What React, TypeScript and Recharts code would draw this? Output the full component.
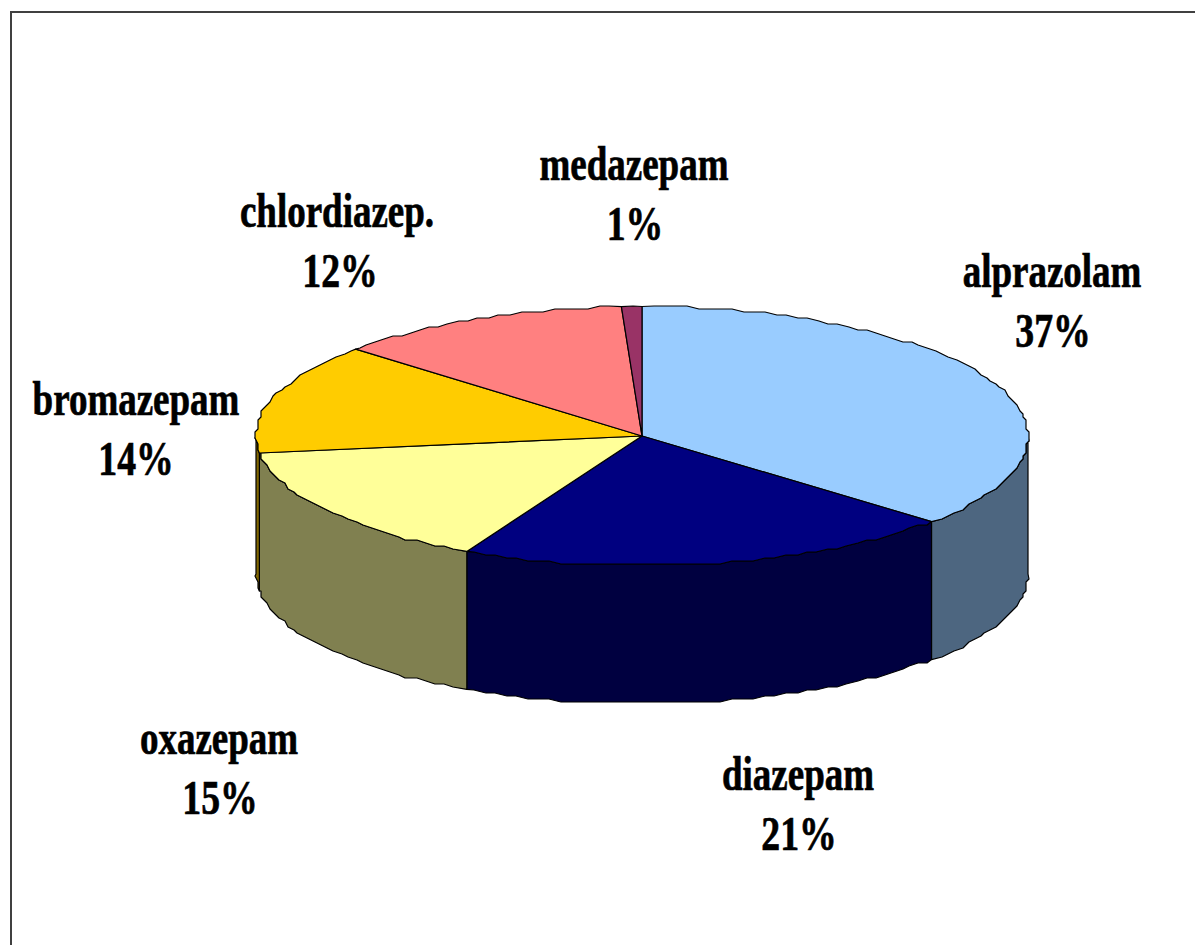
import { PieChart, Pie } from 'recharts'

const drugs = ['alprazolam', 'diazepam', 'oxazepam', 'bromazepam', 'chlordiazep.', 'medazepam']
const shares = [36.5, 21, 15.4, 13.8, 12.45, 0.85]
const topColors = ['#99ccff', '#000080', '#ffff99', '#ffcc00', '#ff8080', '#993366']
const wallColors = ['#4d6680', '#000040', '#808050', '#806600', '#804040', '#4d1a33']

// name centre x, name baseline, percent centre x
const labelSpots = [
  [1052, 287, 1053],
  [798, 790, 799],
  [219, 754, 220],
  [136, 415, 136],
  [337, 227, 340],
  [634, 180, 635],
]

const rows = drugs.map((name, i) => ({ name, value: shares[i], top: topColors[i], wall: wallColors[i] }))

const RX = 386
const RY = 129.5
const DEPTH = 138
const CX = 642
const CY = 436

// The source image is a low-res upscale, so the rim wobbles: sample coarsely and snap to a grid
const STEP = 1.7
const SNAP = 3

function rim(t: number, dy = 0, snap = true) {
  const rad = (t * Math.PI) / 180
  const x = CX + RX * Math.sin(rad)
  const y = CY - RY * Math.cos(rad) + dy
  if (!snap) return [x, y]
  return [Math.round(x / SNAP) * SNAP, Math.round(y / SNAP) * SNAP]
}

function arc(from: number, to: number, dy = 0) {
  const pts = [rim(from, dy, false)]
  for (let k = Math.ceil(from / STEP + 0.3); k * STEP < to - STEP * 0.3; k++) pts.push(rim(k * STEP, dy))
  pts.push(rim(to, dy, false))
  return pts
}

const toPath = (pts: number[][]) => 'M' + pts.map((p) => `${p[0].toFixed(1)},${p[1].toFixed(1)}`).join('L') + 'Z'

function TopSlice(props: any) {
  const d = toPath([[CX, CY], ...arc(90 - props.startAngle, 90 - props.endAngle)])
  return <path d={d} fill={props.payload?.top ?? props.top} stroke="#000" strokeWidth={1.2} strokeLinejoin="round" />
}

function WallSlice(props: any) {
  const from = Math.max(90 - props.startAngle, 90)
  const to = Math.min(90 - props.endAngle, 270)
  if (from >= to) return <g />
  const d = toPath([...arc(from, to), ...arc(from, to, DEPTH).reverse()])
  return <path d={d} fill={props.payload?.wall ?? props.wall} stroke="#000" strokeWidth={1.2} strokeLinejoin="round" />
}

function SliceLabel(props: any) {
  const [x, y, pctX] = labelSpots[props.index]
  const common = {
    textAnchor: 'middle' as const,
    fontFamily: 'Liberation Serif',
    fontWeight: 700,
    fontSize: 49,
    fill: '#000',
    stroke: '#000',
    strokeWidth: 0.7,
  }
  return (
    <g>
      <text {...common} transform={`translate(${x},${y}) scale(0.755,1)`}>{drugs[props.index]}</text>
      <text {...common} transform={`translate(${pctX},${y + 60}) scale(0.77,1)`}>{Math.round(shares[props.index])}%</text>
    </g>
  )
}

export default function App() {
  return (
    <div style={{ position: 'absolute', left: 0, top: 0, width: 1195, height: 945, overflow: 'hidden', background: '#fff' }}>
      <div style={{ position: 'absolute', left: 10, top: 11, width: 1300, height: 1100, border: '2px solid #404040' }} />
      <div style={{ position: 'absolute', left: 0, top: 0 }}>
        <PieChart width={1195} height={945} margin={{ top: 0, right: 0, bottom: 0, left: 0 }}>
          <Pie
            data={rows}
            dataKey="value"
            nameKey="name"
            cx={CX}
            cy={CY}
            outerRadius={RX}
            startAngle={90}
            endAngle={-270}
            paddingAngle={0}
            shape={WallSlice}
            isAnimationActive={false}
          />
          <Pie
            data={rows}
            dataKey="value"
            nameKey="name"
            cx={CX}
            cy={CY}
            outerRadius={RX}
            startAngle={90}
            endAngle={-270}
            paddingAngle={0}
            shape={TopSlice}
            label={SliceLabel}
            labelLine={false}
            isAnimationActive={false}
          />
        </PieChart>
      </div>
    </div>
  )
}
